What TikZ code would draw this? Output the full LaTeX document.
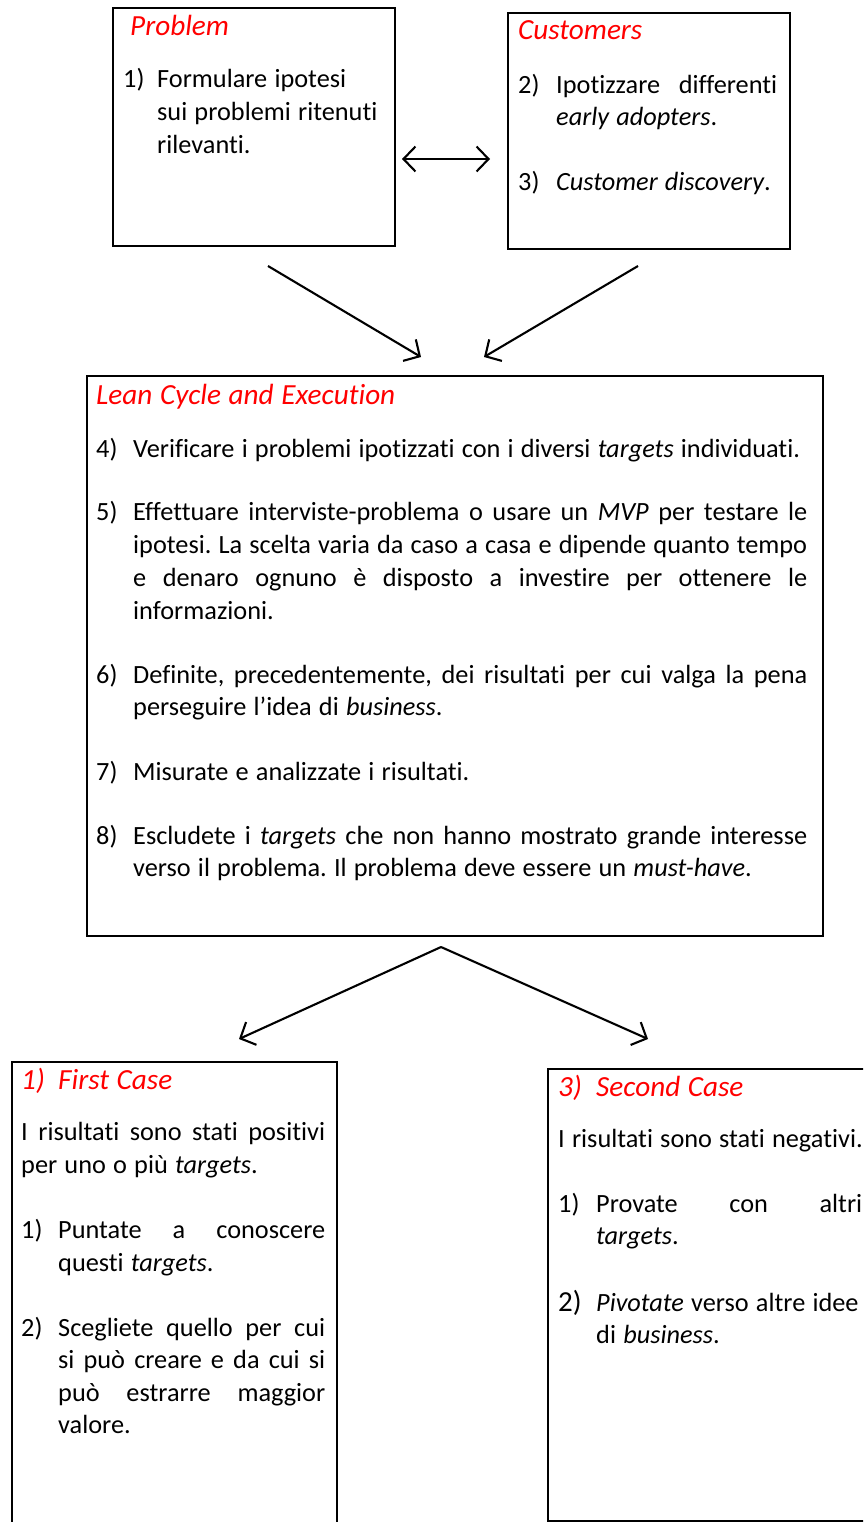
\documentclass[tikz,border=0pt]{standalone}
\usepackage{fontspec}
\setmainfont{Carlito}[Ligatures={TeX,CommonOff}]
\usetikzlibrary{arrows.meta}

% body type: Carlito with slightly open word spacing
\newcommand\bodyfont{\fontsize{26.3pt}{33pt}\selectfont\frenchspacing\spaceskip=7.2pt plus 8pt minus 1.2pt\relax}
% heading type: a size up, italic
\newcommand\headfont{\fontsize{29.2pt}{35pt}\selectfont\itshape\frenchspacing\spaceskip=7.6pt plus 4pt minus 1pt\relax}

\tikzset{
  box/.style={draw, line width=2.3pt, inner sep=0pt, anchor=north west},
  ttl/.style={inner sep=0pt, anchor=base west, text=red, font=\headfont},
  txt/.style={inner sep=0pt, anchor=base west},
  arr/.style={line width=2.1pt, -{Straight Barb[length=12pt,width=25pt]}},
  darr/.style={line width=2.1pt, {Straight Barb[length=12pt,width=25pt]}-{Straight Barb[length=12pt,width=25pt]}}
}
% stacked lines with a fixed baseline distance
\newcommand\rows[2]{\vtop{\baselineskip=#1\lineskiplimit=-100pt\relax #2}}

\begin{document}
\begin{tikzpicture}[x=1pt, y=-1pt, font=\bodyfont]
\useasboundingbox (0,0) rectangle (863,1522);
\clip (0,0) rectangle (863,1522);

% ---------- top row ----------
\node[box, minimum width=282pt, minimum height=238pt] (problem) at (112,7) {};
\node[ttl] (problemT) at (130,36) {Problem};
\node[txt] (p1n) at (123,88) {1)};
\node[txt] (p1) at (157,88) {\rows{33pt}{\hbox{Formulare ipotesi}\hbox{sui problemi ritenuti}\hbox{rilevanti.}}};

\node[box, minimum width=282pt, minimum height=236pt] (customers) at (507,12) {};
\node[ttl] (customersT) at (518,40) {Customers};
\node[txt] (c2n) at (518,94) {2)};
\node[txt] (c2) at (556,94) {\rows{32pt}{\hbox to 221pt{Ipotizzare differenti}\hbox{\textit{early adopters}.}}};
\node[txt] (c3n) at (518,191) {3)};
\node[txt] (c3) at (556,191) {\textit{Customer discovery}.};

\coordinate (dl) at (402,159);
\coordinate (dr) at (490,159);
\draw[darr] (dl) -- (dr);

\coordinate (a1s) at (268,266);
\coordinate (a1e) at (421,357);
\coordinate (a2s) at (638,266);
\coordinate (a2e) at (484,357);
\draw[arr] (a1s) -- (a1e);
\draw[arr] (a2s) -- (a2e);

% ---------- middle box ----------
\node[box, minimum width=736pt, minimum height=560pt] (lean) at (86,375) {};
\node[ttl] (leanT) at (96,404) {Lean Cycle and Execution};
\node[txt] (l4n) at (96,457) {4)};
\node[txt] (l4) at (133,457) {Verificare i problemi ipotizzati con i diversi \textit{targets} individuati.};
\node[txt] (l5n) at (96,520) {5)};
\node[txt] (l5) at (133,520) {\rows{33pt}{%
  \hbox to 674pt{Effettuare interviste-problema o usare un \textit{MVP} per testare le}%
  \hbox to 674pt{ipotesi. La scelta varia da caso a casa e dipende quanto tempo}%
  \hbox to 674pt{e denaro ognuno è disposto a investire per ottenere le}%
  \hbox{informazioni.}}};
\node[txt] (l6n) at (96,683) {6)};
\node[txt] (l6) at (133,683) {\rows{32.5pt}{%
  \hbox to 674pt{Definite, precedentemente, dei risultati per cui valga la pena}%
  \hbox{perseguire l’idea di \textit{business}.}}};
\node[txt] (l7n) at (96,780) {7)};
\node[txt] (l7) at (133,780) {Misurate e analizzate i risultati.};
\node[txt] (l8n) at (96,844) {8)};
\node[txt] (l8) at (133,844) {\rows{32.5pt}{%
  \hbox to 674pt{Escludete i \textit{targets} che non hanno mostrato grande interesse}%
  \hbox{verso il problema. Il problema deve essere un \textit{must-have}.}}};

\coordinate (apex) at (441,947);
\coordinate (b1e) at (239,1039);
\coordinate (b2e) at (648,1039);
\draw[arr] (apex) -- (b1e);
\draw[arr] (apex) -- (b2e);

% ---------- bottom row ----------
\node[box, minimum width=325pt, minimum height=600pt] (first) at (11,1061) {};
\node[ttl] (firstN) at (21,1089) {1)};
\node[ttl] (firstT) at (58,1089) {First Case};
\node[txt] (f0) at (21,1140) {\rows{33pt}{%
  \hbox to 304pt{I risultati sono stati positivi}%
  \hbox{per uno o più \textit{targets}.}}};
\node[txt] (f1n) at (21,1238) {1)};
\node[txt] (f1) at (58,1238) {\rows{33pt}{%
  \hbox to 267pt{Puntate a conoscere}%
  \hbox{questi \textit{targets}.}}};
\node[txt] (f2n) at (21,1336) {2)};
\node[txt] (f2) at (58,1336) {\rows{32.5pt}{%
  \hbox to 267pt{Scegliete quello per cui}%
  \hbox to 267pt{si può creare e da cui si}%
  \hbox to 267pt{può estrarre maggior}%
  \hbox{valore.}}};

\node[box, minimum width=400pt, minimum height=452pt] (second) at (547,1068) {};
\node[ttl] (secondN) at (558,1096) {3)};
\node[ttl] (secondT) at (596,1096) {Second Case};
\node[txt] (s0) at (558,1147) {I risultati sono stati negativi.};
\node[txt] (s1n) at (558,1212) {1)};
\node[txt] (s1) at (596,1212) {\rows{32pt}{%
  \hbox to 266pt{Provate con altri}%
  \hbox{\textit{targets}.}}};
\node[txt, font=\fontsize{29pt}{33pt}\selectfont] (s2n) at (558,1311) {2)};
\node[txt] (s2) at (596,1311) {\rows{32pt}{%
  \hbox{\textit{Pivotate} verso altre idee}%
  \hbox{di \textit{business}.}}};
\end{tikzpicture}
\end{document}
